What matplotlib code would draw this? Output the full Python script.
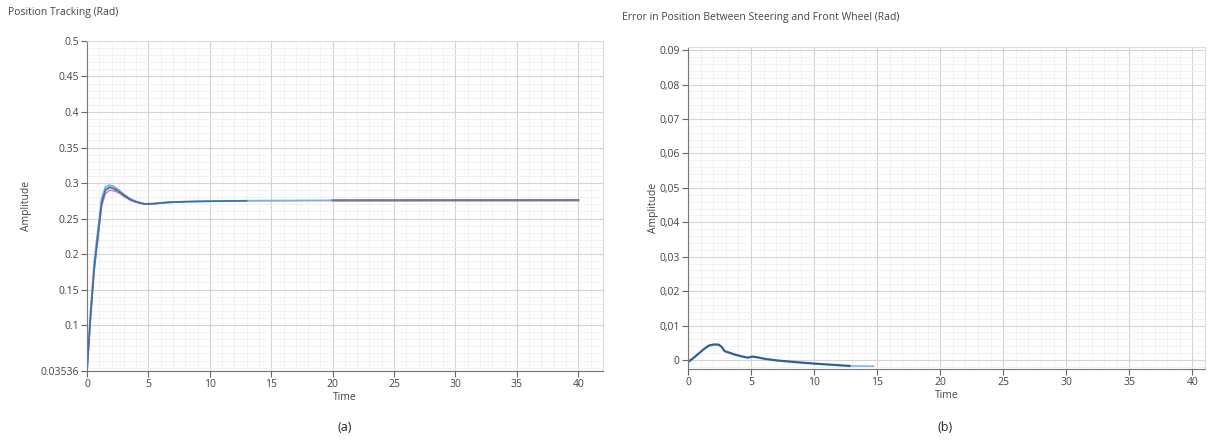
import matplotlib.pyplot as plt
from matplotlib.ticker import MultipleLocator

plt.rcParams['font.family'] = ['Open Sans', 'DejaVu Sans']

# Position tracking (rad) - reference, steering, wheel
t_ref = [0, 0.3, 0.6, 0.9, 1.2, 1.5, 1.85, 2.2, 2.6, 3.0, 3.5, 4.0, 4.7, 5.5, 6.5, 8.0, 10, 13, 20, 30, 40]
y_ref = [0.0354, 0.12, 0.19, 0.235, 0.278, 0.294, 0.297, 0.295, 0.290, 0.284, 0.278, 0.274, 0.2705, 0.2712, 0.2728, 0.2738, 0.2745, 0.2750, 0.2755, 0.2757, 0.2758]
t_steer = [0, 0.3, 0.6, 0.9, 1.2, 1.5, 1.85, 2.2, 2.6, 3.0, 3.5, 4.0, 4.7, 5.5, 6.5, 8.0, 10, 13]
y_steer = [0.0354, 0.115, 0.182, 0.228, 0.273, 0.290, 0.294, 0.292, 0.288, 0.283, 0.277, 0.2735, 0.2703, 0.2710, 0.2727, 0.2737, 0.2744, 0.2750]
t_wheel = [0, 0.3, 0.6, 0.9, 1.2, 1.5, 1.85, 2.2, 2.6, 3.0, 3.5, 4.0, 4.7, 5.5, 6.5, 8.0]
y_wheel = [0.0354, 0.11, 0.178, 0.222, 0.268, 0.285, 0.290, 0.289, 0.286, 0.281, 0.276, 0.2728, 0.2700, 0.2708, 0.2725, 0.2735]
t_both = [20, 30, 40]
y_both = [0.2756, 0.2757, 0.2758]

# Error between steering and front wheel (rad)
t_err = [0, 0.4, 0.85, 1.3, 1.65, 2.0, 2.4, 2.65, 2.9, 3.3, 3.7, 4.2, 4.75, 5.1, 5.5, 6.0, 7.0, 7.6, 8.5, 9.9, 11.5, 12.8]
e_err = [-0.0006, 0.0005, 0.0019, 0.0033, 0.0042, 0.0045, 0.0045, 0.0039, 0.0026, 0.0021, 0.0016, 0.0011, 0.0007, 0.0010, 0.0008, 0.0004, -0.0001, -0.0003, -0.0006, -0.0010, -0.0014, -0.0017]
t_tail = [12.8, 14.7]
e_tail = [-0.0017, -0.0018]

yt_a = [0.03536, 0.1, 0.15, 0.2, 0.25, 0.3, 0.35, 0.4, 0.45, 0.5]
yl_a = ['0.03536', '0.1', '0.15', '0.2', '0.25', '0.3', '0.35', '0.4', '0.45', '0.5']
yt_b = [0, 0.01, 0.02, 0.03, 0.04, 0.05, 0.06, 0.07, 0.08, 0.09]
yl_b = ['0', '0,01', '0,02', '0,03', '0,04', '0,05', '0,06', '0,07', '0,08', '0.09']
xt = [0, 5, 10, 15, 20, 25, 30, 35, 40]

txt = '#444444'
fig = plt.figure(figsize=(12.13, 4.45), dpi=100)
ax1 = fig.add_axes([0.0717, 0.1663, 0.4253, 0.7416])
ax2 = fig.add_axes([0.5672, 0.1708, 0.4262, 0.7244])


def style(ax):
    ax.set_facecolor('white')
    ax.grid(which='major', color='#d4d4d4', lw=0.8)
    ax.grid(which='minor', color='#efefef', lw=0.6)
    ax.set_axisbelow(True)
    for s in ['top', 'right']:
        ax.spines[s].set_color('#dddddd')
    for s in ['left', 'bottom']:
        ax.spines[s].set_color('#777777')
    ax.tick_params(which='major', length=4, color='#666666', labelsize=7.5,
                   labelcolor=txt, pad=2)
    ax.tick_params(which='minor', length=0)
    ax.xaxis.set_minor_locator(MultipleLocator(1))
    ax.set_xticks(xt)
    ax.set_xticklabels([str(v) for v in xt])
    ax.set_xlabel('Time', fontsize=7.5, color=txt, labelpad=1)
    ax.set_ylabel('Amplitude', fontsize=7.5, color=txt)


style(ax1)
ax1.plot(t_ref, y_ref, color='#7fb0e0', lw=1.4)
ax1.plot(t_wheel, y_wheel, color='#e07080', lw=1.0)
ax1.plot(t_steer, y_steer, color='#3a6fb0', lw=1.2)
ax1.plot(t_both, y_both, color='#75739a', lw=1.6)
ax1.set_xlim(0, 42)
ax1.set_ylim(0.03536, 0.5)
ax1.set_yticks(yt_a)
ax1.set_yticklabels(yl_a)
ax1.yaxis.set_minor_locator(MultipleLocator(0.01))
ax1.yaxis.labelpad = 6

style(ax2)
ax2.plot(t_tail, e_tail, color='#8ab4e0', lw=1.2)
ax2.plot(t_err, e_err, color='#2f5f9a', lw=1.6)
ax2.set_xlim(0, 41)
ax2.set_ylim(-0.0026, 0.091)
ax2.set_yticks(yt_b)
ax2.set_yticklabels(yl_b)
ax2.yaxis.set_minor_locator(MultipleLocator(0.002))
ax2.yaxis.labelpad = 0

fig.text(0.007, 0.972, 'Position Tracking (Rad)', fontsize=7.5, color=txt, va='center')
fig.text(0.513, 0.96, 'Error in Position Between Steering and Front Wheel (Rad)',
         fontsize=7.5, color=txt, va='center')
fig.text(0.284, 0.04, '(a)', fontsize=9, color='#222222', ha='center', va='center')
fig.text(0.779, 0.04, '(b)', fontsize=9, color='#222222', ha='center', va='center')

fig.savefig('out.png', dpi=100, facecolor='white')
